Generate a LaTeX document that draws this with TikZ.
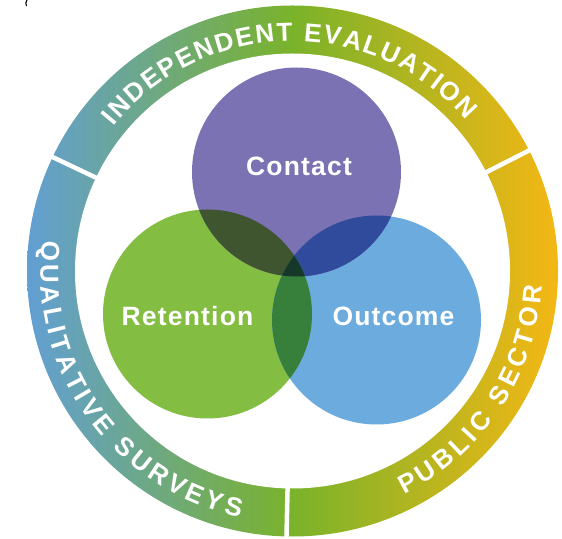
\documentclass[tikz,border=0pt]{standalone}
\usepackage{fontspec}
\setmainfont{Liberation Sans}
\newfontfamily\labelfont[LetterSpace=4.5]{Liberation Sans Bold}
\newfontfamily\ringfont{Liberation Sans Bold}
\usetikzlibrary{decorations.text,calc}
\definecolor{ringA}{HTML}{629FD3}
\definecolor{ringB}{HTML}{7AB32A}
\definecolor{ringC}{HTML}{F4B714}
\definecolor{cContact}{HTML}{7B72B3}
\definecolor{cRetention}{HTML}{83BD41}
\definecolor{cOutcome}{HTML}{6CABDE}
\definecolor{cCR}{HTML}{3E5530}
\definecolor{cCO}{HTML}{304B9B}
\definecolor{cRO}{HTML}{37803B}
\definecolor{cAll}{HTML}{16382A}
\pgfdeclarehorizontalshading{ringshade}{100bp}{color(0bp)=(ringA); color(25bp)=(ringA); color(50bp)=(ringB); color(75bp)=(ringC); color(100bp)=(ringC)}
\tikzset{
  spoke/.style={draw=white,line width=4.5pt},
  vennlabel/.style={text=white,font=\labelfont\fontsize{26.5}{30}\selectfont,inner sep=0pt},
  ringtext/.style={decorate,decoration={text along path,text align={fit to path},
    text={|\ringfont\fontsize{26}{28}\selectfont\color{white}|#1}}}
}
\begin{document}
\begin{tikzpicture}[x=1pt,y=1pt]
\useasboundingbox (0,0) rectangle (562,538);
\coordinate (O) at (292.5,267);
\coordinate (C) at (296.5,366);
\coordinate (R) at (207.5,224);
\coordinate (U) at (376.5,218);
\def\rv{104.5pt}
% ring
\shade[shading=ringshade] (O) circle[radius=265.5pt];
\fill[white] (O) circle[radius=217.5pt];
\draw[spoke] ($(O)+(154.6:215pt)$) -- ($(O)+(154.6:268pt)$);
\draw[spoke] ($(O)+(27:215pt)$) -- ($(O)+(27:268pt)$);
\draw[spoke] ($(O)+(268.7:215pt)$) -- ($(O)+(268.7:268pt)$);
% stray mark
\coordinate (m1) at (27,538);
\coordinate (m2) at (26.5,532);
\draw[black,line width=1.1pt] (m1) .. controls (25.5,535) .. (m2);
% venn
\fill[cRetention] (R) circle[radius=\rv];
\fill[cOutcome] (U) circle[radius=\rv];
\fill[cContact] (C) circle[radius=\rv];
\begin{scope}\clip (C) circle[radius=\rv]; \fill[cCR] (R) circle[radius=\rv]; \end{scope}
\begin{scope}\clip (C) circle[radius=\rv]; \fill[cCO] (U) circle[radius=\rv]; \end{scope}
\begin{scope}\clip (R) circle[radius=\rv]; \fill[cRO] (U) circle[radius=\rv]; \end{scope}
\begin{scope}\clip (R) circle[radius=\rv]; \clip (U) circle[radius=\rv]; \fill[cAll] (C) circle[radius=\rv]; \end{scope}
\node[vennlabel] (contact) at (299,371.5) {Contact};
\node[vennlabel] (retention) at (187.5,221.5) {Retention};
\node[vennlabel] (outcome) at (393.5,221.5) {Outcome};
% ring text
\path[ringtext={INDEPENDENT EVALUATION}] ($(O)+(141:230pt)$) arc[start angle=141,end angle=41,radius=230pt];
\path[ringtext={QUALITATIVE SURVEYS}] ($(O)+(173:252pt)$) arc[start angle=173,end angle=258,radius=252pt];
\path[ringtext={PUBLIC SECTOR}] ($(O)+(-63.5:250pt)$) arc[start angle=-63.5,end angle=-3.5,radius=250pt];
\end{tikzpicture}
\end{document}
